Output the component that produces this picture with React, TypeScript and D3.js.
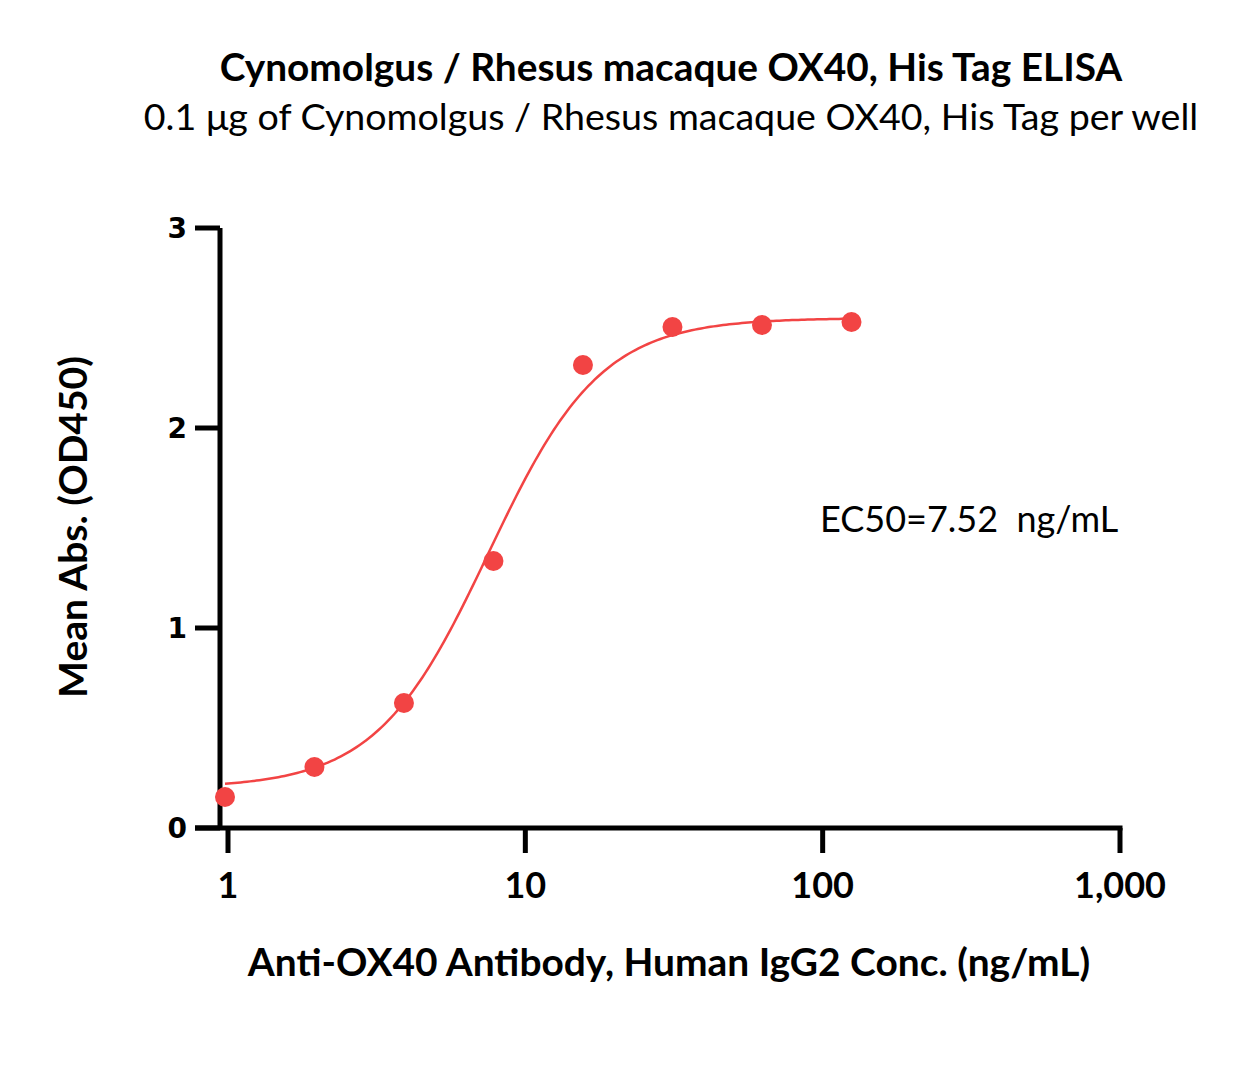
import React from "react";
import * as d3 from "d3";

const concentrations = [0.977, 1.953, 3.906, 7.813, 15.625, 31.25, 62.5, 125];
const absorbance = [0.155, 0.305, 0.625, 1.335, 2.315, 2.505, 2.515, 2.53];
const fitParams = { bottom: 0.2, top: 2.55, ec50: 7.52, hill: 2.3 };
const xTicks = [1, 10, 100, 1000];
const yTicks = [0, 1, 2, 3];

const W = 1245, H = 1083;
const FONT = "Lato, 'Open Sans', sans-serif";
const RED = "#f24444";

export default function App() {
  const x = d3.scaleLog().domain([1, 1000]).range([228, 1120]);
  const y = d3.scaleLinear().domain([0, 3]).range([828, 228]);
  const fit = (c: number) =>
    fitParams.bottom + (fitParams.top - fitParams.bottom) / (1 + Math.pow(fitParams.ec50 / c, fitParams.hill));
  const curveXs = d3.range(0, 201).map(i => Math.pow(10, Math.log10(0.977) + (Math.log10(125) - Math.log10(0.977)) * i / 200));
  const line = d3.line<number>().x(c => x(c)).y(c => y(fit(c))).curve(d3.curveLinear);
  const fmt = d3.format(",");
  const axisX = 220;
  return (
    <svg width={W} height={H} style={{ display: "block", position: "absolute", left: 0, top: 0, background: "#fff" }}>
      <text x={671} y={81} textAnchor="middle" fontFamily={FONT} fontWeight="bold" fontSize={38.8}>Cynomolgus / Rhesus macaque OX40, His Tag ELISA</text>
      <text x={671} y={130} textAnchor="middle" fontFamily={FONT} fontSize={37.6}>0.1 μg of Cynomolgus / Rhesus macaque OX40, His Tag per well</text>
      {/* axes */}
      <line x1={axisX} x2={axisX} y1={y(3)} y2={y(0)} stroke="#000" strokeWidth={5} />
      <line x1={195} x2={x(1000) + 2.5} y1={y(0)} y2={y(0)} stroke="#000" strokeWidth={5} />
      {yTicks.map(t => (
        <g key={"y" + t}>
          <line x1={195} x2={axisX} y1={y(t)} y2={y(t)} stroke="#000" strokeWidth={5} />
          <text x={187} y={y(t)} dy="0.36em" textAnchor="end" fontFamily="'DejaVu Sans', Verdana, sans-serif" fontWeight="bold" fontSize={28}>{t}</text>
        </g>
      ))}
      {xTicks.map(t => (
        <g key={"x" + t}>
          <line x1={x(t)} x2={x(t)} y1={y(0)} y2={y(0) + 25} stroke="#000" strokeWidth={5} />
          <text x={x(t)} y={898} textAnchor="middle" fontFamily={FONT} fontWeight="bold" fontSize={36}>{fmt(t)}</text>
        </g>
      ))}
      <path d={line(curveXs) || ""} fill="none" stroke={RED} strokeWidth={2.5} />
      {concentrations.map((c, i) => (
        <circle key={i} cx={x(c)} cy={y(absorbance[i])} r={10} fill={RED} />
      ))}
      <text x={820} y={532} fontFamily={FONT} fontSize={36} style={{ whiteSpace: "pre" }}>EC50=7.52  ng/mL</text>
      <text x={669} y={976} textAnchor="middle" fontFamily={FONT} fontWeight="bold" fontSize={38.9}>Anti-OX40 Antibody, Human IgG2 Conc. (ng/mL)</text>
      <text transform={`translate(87,527) rotate(-90)`} textAnchor="middle" fontFamily={FONT} fontWeight="bold" fontSize={39}>Mean Abs. (OD450)</text>
    </svg>
  );
}
